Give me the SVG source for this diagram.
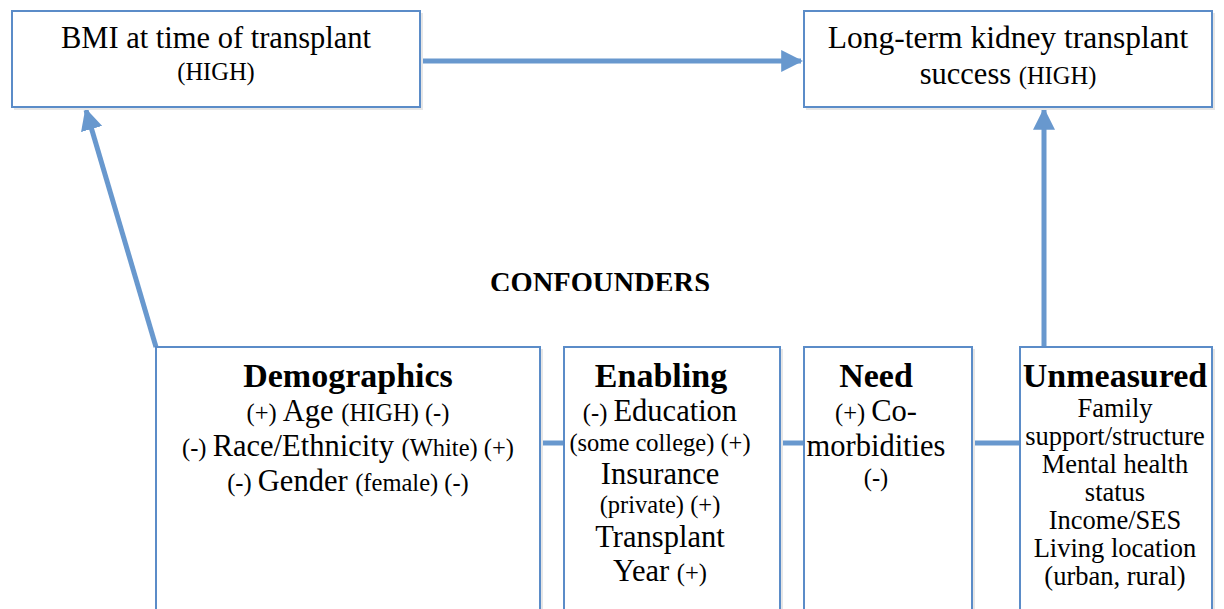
<svg xmlns="http://www.w3.org/2000/svg" width="1224" height="609" viewBox="0 0 1224 609">
<defs>
<style>
.box{fill:#fff;stroke:#5B8CC8;stroke-width:2}
.sh{fill:#e6e6e6}
.t{font-family:"Liberation Serif","DejaVu Serif",serif;fill:#000;text-anchor:middle}
.m{font-size:30.5px}
.s{font-size:24.5px}
.h{font-size:34px;font-weight:bold}
.u{font-size:26.5px}
.c{stroke:#6898CE;stroke-width:5;fill:none}
</style>
<marker id="ah" viewBox="0 0 10 10" refX="9" refY="5" markerWidth="4.4" markerHeight="4.4" orient="auto" markerUnits="strokeWidth">
<path d="M0,0 L10,5 L0,10 Z" fill="#6898CE"/>
</marker>
<clipPath id="cl"><rect x="0" y="0" width="1224" height="291"/></clipPath>
</defs>
<g id="connectors">
<line class="c" x1="420" y1="61" x2="801" y2="61" marker-end="url(#ah)"/>
<line class="c" x1="1044" y1="347" x2="1044" y2="110" marker-end="url(#ah)"/>
<line class="c" x1="156" y1="347" x2="86" y2="110" marker-end="url(#ah)"/>
<line class="c" x1="540" y1="443" x2="564" y2="443"/>
<line class="c" x1="780" y1="443" x2="804" y2="443"/>
<line class="c" x1="972" y1="443" x2="1020" y2="443"/>
</g>
<g id="bmi">
<rect class="sh" x="14" y="13" width="409" height="97"/>
<rect class="box" x="12" y="11" width="408" height="96"/>
<text class="t m" x="216" y="48">BMI at time of transplant</text>
<text class="t s" x="216" y="80">(HIGH)</text>
</g>
<g id="success">
<rect class="sh" x="806" y="13" width="409" height="97"/>
<rect class="box" x="804" y="11" width="408" height="96"/>
<text class="t" x="1008" y="48" style="font-size:31.5px">Long-term kidney transplant</text>
<text class="t" x="1008" y="84"><tspan class="m">success </tspan><tspan class="s">(HIGH)</tspan></text>
</g>
<g id="confounders">
<text class="t" x="600" y="292" clip-path="url(#cl)" style="font-size:28.5px;font-weight:bold">CONFOUNDERS</text>
</g>
<g id="demographics">
<rect class="sh" x="158" y="349" width="385" height="262"/>
<rect class="box" x="156" y="347" width="384" height="270"/>
<text class="t h" x="348" y="387">Demographics</text>
<text class="t" x="348" y="421"><tspan class="s">(+) </tspan><tspan class="m">Age </tspan><tspan class="s">(HIGH) (-)</tspan></text>
<text class="t" x="348" y="456"><tspan class="s">(-) </tspan><tspan class="m">Race/Ethnicity </tspan><tspan class="s">(White) (+)</tspan></text>
<text class="t" x="348" y="491"><tspan class="s">(-) </tspan><tspan class="m">Gender </tspan><tspan class="s">(female) (-)</tspan></text>
</g>
<g id="enabling">
<rect class="sh" x="566" y="349" width="217" height="262"/>
<rect class="box" x="564" y="347" width="216" height="270"/>
<text class="t h" x="661" y="387">Enabling</text>
<text class="t" x="660" y="421"><tspan class="s">(-) </tspan><tspan class="m">Education</tspan></text>
<text class="t s" x="660" y="451">(some college) (+)</text>
<text class="t m" x="660" y="484">Insurance</text>
<text class="t s" x="660" y="513">(private) (+)</text>
<text class="t m" x="660" y="547">Transplant</text>
<text class="t" x="660" y="581"><tspan class="m">Year </tspan><tspan class="s">(+)</tspan></text>
</g>
<g id="need">
<rect class="sh" x="806" y="349" width="169" height="262"/>
<rect class="box" x="804" y="347" width="168" height="270"/>
<text class="t h" x="876" y="387">Need</text>
<text class="t" x="876" y="421"><tspan class="s">(+) </tspan><tspan class="m">Co-</tspan></text>
<text class="t m" x="876" y="456">morbidities</text>
<text class="t s" x="876" y="486">(-)</text>
</g>
<g id="unmeasured">
<rect class="sh" x="1022" y="349" width="193" height="262"/>
<rect class="box" x="1020" y="347" width="192" height="270"/>
<text class="t h" x="1115" y="387">Unmeasured</text>
<text class="t u" x="1115" y="417">Family</text>
<text class="t u" x="1115" y="445">support/structure</text>
<text class="t u" x="1115" y="473">Mental health</text>
<text class="t u" x="1115" y="501">status</text>
<text class="t u" x="1115" y="529">Income/SES</text>
<text class="t u" x="1115" y="557">Living location</text>
<text class="t u" x="1115" y="585">(urban, rural)</text>
</g>
</svg>
